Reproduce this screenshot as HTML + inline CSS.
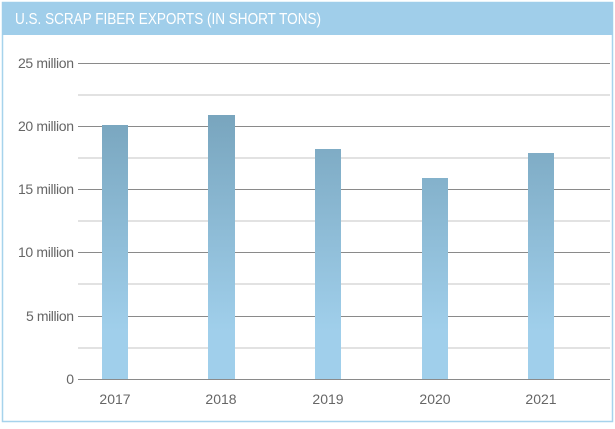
<!DOCTYPE html>
<html><head><style>
body{margin:0;width:615px;height:424px;background:#fff;font-family:"Liberation Sans",sans-serif;}
</style></head><body>
<svg width="615" height="424" xmlns="http://www.w3.org/2000/svg">
<defs><linearGradient id="g" x1="0" y1="63" x2="0" y2="379" gradientUnits="userSpaceOnUse">
<stop offset="0" stop-color="#6f9bb3"/><stop offset="0.85" stop-color="#a0cfeb"/></linearGradient></defs>
<rect x="2.5" y="2.5" width="610" height="419" fill="#fff" stroke="#a6d3ec" stroke-width="1.5"/>
<rect x="2" y="2" width="611" height="33" fill="#a0ceea"/>
<text x="15" y="24" font-size="16" fill="#fff" textLength="306" lengthAdjust="spacingAndGlyphs">U.S. SCRAP FIBER EXPORTS (IN SHORT TONS)</text>
<g stroke="#e2e2e2" stroke-width="2">
<line x1="78" x2="610" y1="95" y2="95"/><line x1="78" x2="610" y1="158" y2="158"/><line x1="78" x2="610" y1="221" y2="221"/><line x1="78" x2="610" y1="284" y2="284"/><line x1="78" x2="610" y1="348" y2="348"/>
</g>
<g stroke="#8a8a8a" stroke-width="1">
<line x1="78" x2="610" y1="63.5" y2="63.5"/><line x1="78" x2="610" y1="126.5" y2="126.5"/><line x1="78" x2="610" y1="189.5" y2="189.5"/><line x1="78" x2="610" y1="252.5" y2="252.5"/><line x1="78" x2="610" y1="316.5" y2="316.5"/><line x1="78" x2="610" y1="379.5" y2="379.5"/>
</g>
<g fill="url(#g)">
<rect x="102" y="125" width="26" height="254"/>
<rect x="208" y="115" width="27" height="264"/>
<rect x="315" y="149" width="26" height="230"/>
<rect x="422" y="178" width="26" height="201"/>
<rect x="528" y="153" width="26" height="226"/>
</g>
<line x1="78" x2="610" y1="379.5" y2="379.5" stroke="#8a8a8a"/>
<g font-size="14" fill="#666" text-anchor="end" lengthAdjust="spacingAndGlyphs">
<text x="74" y="68" textLength="56">25 million</text><text x="74" y="131" textLength="56">20 million</text><text x="74" y="194" textLength="56">15 million</text><text x="74" y="257" textLength="56">10 million</text><text x="74" y="321" textLength="48">5 million</text><text x="74" y="384">0</text>
</g>
<g font-size="14" fill="#666" text-anchor="middle">
<text x="115" y="404">2017</text><text x="221" y="404">2018</text><text x="328" y="404">2019</text><text x="435" y="404">2020</text><text x="541" y="404">2021</text>
</g>
</svg>
</body></html>
